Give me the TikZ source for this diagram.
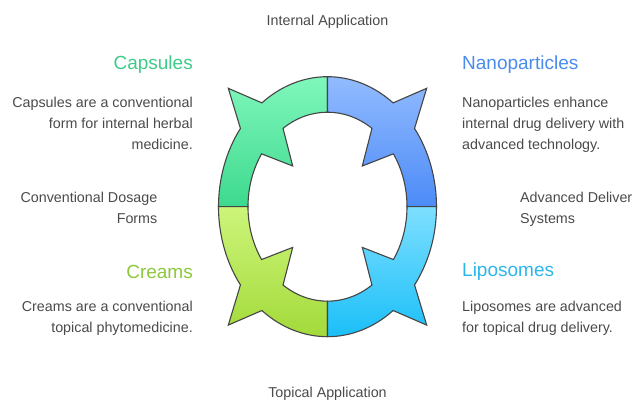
\documentclass[tikz,border=0pt]{standalone}
\usepackage{fontspec}
\setmainfont{Liberation Sans}
\definecolor{gTop}{HTML}{80F7BC}
\definecolor{gBot}{HTML}{3DD98E}
\definecolor{bTop}{HTML}{92BBFF}
\definecolor{bBot}{HTML}{4C8BF7}
\definecolor{yTop}{HTML}{CDF57A}
\definecolor{yBot}{HTML}{A3DA3A}
\definecolor{cTop}{HTML}{7EDFFF}
\definecolor{cBot}{HTML}{1BBFF8}
\definecolor{edge}{HTML}{454545}
\definecolor{txt}{HTML}{4A4A4A}
\definecolor{tGreen}{HTML}{3ECB8A}
\definecolor{tBlue}{HTML}{4A8BEE}
\definecolor{tLime}{HTML}{8CC83C}
\definecolor{tCyan}{HTML}{2CB6EA}
\tikzset{
  seg/.style={draw=edge, line width=1.1pt, line join=miter},
  body/.style={text=txt, font=\fontsize{14.3}{21}\selectfont, inner sep=0pt},
  title/.style={font=\fontsize{19}{22}\selectfont, inner sep=0pt},
}
\def\ORX{109}\def\ORY{130}\def\IRX{79.5}\def\IRY{94.5}
\begin{document}
\begin{tikzpicture}[x=1pt,y=1pt]
\useasboundingbox (-327.5,-194.3) rectangle (304.5,206.7);
% top-left
\path[seg, top color=gTop, bottom color=gBot]
 (-109,0) arc[start angle=180, end angle=143, x radius=\ORX, y radius=\ORY]
 -- (-99.2,118.4) -- ({\ORX*cos(127)},{\ORY*sin(127)})
 arc[start angle=127, end angle=90, x radius=\ORX, y radius=\ORY]
 -- (0,94.5) arc[start angle=90, end angle=124, x radius=\IRX, y radius=\IRY]
 -- (-34.8,40.7) -- ({\IRX*cos(146)},{\IRY*sin(146)})
 arc[start angle=146, end angle=180, x radius=\IRX, y radius=\IRY] -- cycle;
% top-right
\path[seg, top color=bTop, bottom color=bBot]
 (109,0) arc[start angle=0, end angle=37, x radius=\ORX, y radius=\ORY]
 -- (99.2,118.4) -- ({\ORX*cos(53)},{\ORY*sin(53)})
 arc[start angle=53, end angle=90, x radius=\ORX, y radius=\ORY]
 -- (0,94.5) arc[start angle=90, end angle=56, x radius=\IRX, y radius=\IRY]
 -- (34.8,40.7) -- ({\IRX*cos(34)},{\IRY*sin(34)})
 arc[start angle=34, end angle=0, x radius=\IRX, y radius=\IRY] -- cycle;
% bottom-left
\path[seg, top color=yTop, bottom color=yBot]
 (-109,0) arc[start angle=180, end angle=217, x radius=\ORX, y radius=\ORY]
 -- (-99.2,-118.4) -- ({\ORX*cos(233)},{\ORY*sin(233)})
 arc[start angle=233, end angle=270, x radius=\ORX, y radius=\ORY]
 -- (0,-94.5) arc[start angle=270, end angle=236, x radius=\IRX, y radius=\IRY]
 -- (-34.8,-40.7) -- ({\IRX*cos(214)},{\IRY*sin(214)})
 arc[start angle=214, end angle=180, x radius=\IRX, y radius=\IRY] -- cycle;
% bottom-right
\path[seg, top color=cTop, bottom color=cBot]
 (109,0) arc[start angle=360, end angle=323, x radius=\ORX, y radius=\ORY]
 -- (99.2,-118.4) -- ({\ORX*cos(307)},{\ORY*sin(307)})
 arc[start angle=307, end angle=270, x radius=\ORX, y radius=\ORY]
 -- (0,-94.5) arc[start angle=270, end angle=304, x radius=\IRX, y radius=\IRY]
 -- (34.8,-40.7) -- ({\IRX*cos(326)},{\IRY*sin(326)})
 arc[start angle=326, end angle=360, x radius=\IRX, y radius=\IRY] -- cycle;
% texts (y = 206.7 - pixel y)
\node[body] (internal) at (0,184.7) {Internal Application};
\node[body] (topical) at (0,-187.5) {Topical Application};
\node[title, text=tGreen, anchor=east] (capT) at (-134.5,142.2) {Capsules};
\node[body, anchor=north east, align=right] (capB) at (-134.5,110) {Capsules are a conventional\\form for internal herbal\\medicine.};
\node[body, anchor=north east, align=right] (conv) at (-170,15) {Conventional Dosage\\Forms};
\node[title, text=tLime, anchor=east] (crT) at (-134.5,-65) {Creams};
\node[body, anchor=north east, align=right] (crB) at (-134.5,-94.5) {Creams are a conventional\\topical phytomedicine.};
\node[title, text=tBlue, anchor=west] (nanoT) at (134.5,142.2) {Nanoparticles};
\node[body, anchor=north west, align=left] (nanoB) at (134.5,110) {Nanoparticles enhance\\internal drug delivery with\\advanced technology.};
\node[body, anchor=north west, align=left] (adv) at (192.5,15) {Advanced Delivery\\Systems};
\node[title, text=tCyan, anchor=west] (lipT) at (134.5,-65) {Liposomes};
\node[body, anchor=north west, align=left] (lipB) at (134.5,-94.5) {Liposomes are advanced\\for topical drug delivery.};
\end{tikzpicture}
\end{document}
